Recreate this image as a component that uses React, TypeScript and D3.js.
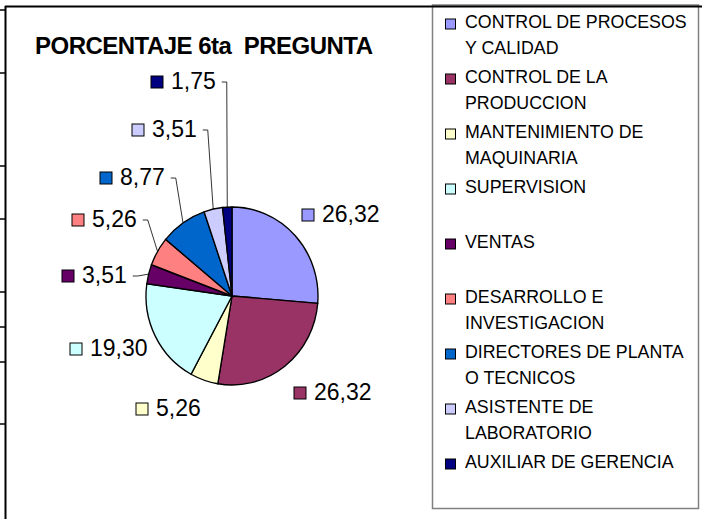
import React from "react";
import * as d3 from "d3";

const title = "PORCENTAJE 6ta  PREGUNTA";
const categories = [
  "CONTROL DE PROCESOS Y CALIDAD",
  "CONTROL DE LA PRODUCCION",
  "MANTENIMIENTO DE MAQUINARIA",
  "SUPERVISION",
  "VENTAS",
  "DESARROLLO E INVESTIGACION",
  "DIRECTORES DE PLANTA O TECNICOS",
  "ASISTENTE DE LABORATORIO",
  "AUXILIAR DE GERENCIA",
];
const legendLines = [
  ["CONTROL DE PROCESOS", "Y CALIDAD"],
  ["CONTROL DE LA", "PRODUCCION"],
  ["MANTENIMIENTO DE", "MAQUINARIA"],
  ["SUPERVISION"],
  ["VENTAS"],
  ["DESARROLLO E", "INVESTIGACION"],
  ["DIRECTORES DE PLANTA", "O TECNICOS"],
  ["ASISTENTE DE", "LABORATORIO"],
  ["AUXILIAR DE GERENCIA"],
];
const values = [26.32, 26.32, 5.26, 19.3, 3.51, 5.26, 8.77, 3.51, 1.75];
const colors = [
  "#9999FF",
  "#993366",
  "#FFFFCC",
  "#CCFFFF",
  "#660066",
  "#FF8080",
  "#0066CC",
  "#CCCCFF",
  "#000080",
];

// layout (manually placed data labels, like the original): text x, baseline y
const labelPos: [number, number][] = [
  [322, 222],
  [314, 400],
  [156, 416],
  [90, 356],
  [82, 283],
  [92, 227],
  [120, 185],
  [152, 137],
  [171, 89],
];
const hasLeader = [false, false, false, false, true, true, true, true, true];
const sheetTicks = [10, 73, 166, 219, 292, 327, 362, 424];

const W = 702;
const H = 519;
const cx = 232;
const cy = 296;
const rx = 86;
const ry = 89;
const labelFont = 23;
const legendFont = 17.8;

const fmt = (v: number) => d3.format(".2f")(v).replace(".", ",");
const textWidth = (s: string, fs: number) =>
  s.split("").reduce((a, c) => a + (c === "," ? 0.278 : 0.556), 0) * fs;

export default function App() {
  const pie = d3
    .pie<number>()
    .sort(null)
    .value((d) => d)
    .startAngle(0)
    .endAngle(2 * Math.PI);
  const arcs = pie(values);
  const arc = d3.arc<d3.PieArcDatum<number>>().innerRadius(0).outerRadius(ry);
  const font = "'Liberation Sans', Arial, sans-serif";

  return (
    <svg
      width={W}
      height={H}
      style={{ position: "absolute", left: 0, top: 0, background: "#fff" }}
      fontFamily={font}
    >
      <rect x={0} y={0} width={W} height={H} fill="#fff" />
      {/* sheet cell ticks at left */}
      {sheetTicks.map((y, i) => (
        <line key={i} x1={0} x2={5} y1={y} y2={y} stroke="#000" strokeWidth={1.5} />
      ))}
      {/* legend box */}
      <rect x={432.5} y={5} width={266} height={503.5} fill="#fff" stroke="#808080" strokeWidth={1.5} />
      {/* chart frame */}
      <line x1={5} x2={W} y1={6.5} y2={6.5} stroke="#000" strokeWidth={2} />
      <line x1={5.5} x2={5.5} y1={6} y2={H} stroke="#000" strokeWidth={2} />

      <text x={35} y={54} fontSize={24} fontWeight="bold" textLength={338} lengthAdjust="spacing" style={{ whiteSpace: "pre" }}>
        {title}
      </text>

      <g transform={`translate(${cx},${cy}) scale(${rx / ry},1)`}>
        {arcs.map((a, i) => (
          <path key={i} d={arc(a) || ""} fill={colors[i]} stroke="#000" strokeWidth={1.4} />
        ))}
      </g>

      {arcs.map((a, i) => {
        const [tx, ty] = labelPos[i];
        const s = fmt(values[i]);
        const mid = (a.startAngle + a.endAngle) / 2;
        const px = cx + rx * Math.sin(mid);
        const py = cy - ry * Math.cos(mid);
        const sx = tx + textWidth(s, labelFont) + 6;
        const sy = ty - 7;
        return (
          <g key={i}>
            {hasLeader[i] && (
              <path d={`M${sx},${sy}h5L${px},${py}`} fill="none" stroke="#000" strokeWidth={0.8} />
            )}
            <rect x={tx - 20} y={ty - 13} width={12} height={12} fill={colors[i]} stroke="#000" strokeWidth={1} />
            <text x={tx} y={ty} fontSize={labelFont} fill="#000">
              {s}
            </text>
          </g>
        );
      })}

      {legendLines.map((lines, i) => {
        const by = 27.5 + i * 55;
        return (
          <g key={i}>
            <title>{categories[i]}</title>
            <rect x={445.5} y={by - 8.5} width={10} height={10} fill={colors[i]} stroke="#000" strokeWidth={1} />
            {lines.map((ln, j) => (
              <text key={j} x={465} y={by + j * 26.5} fontSize={legendFont} fill="#000">
                {ln}
              </text>
            ))}
          </g>
        );
      })}
    </svg>
  );
}
